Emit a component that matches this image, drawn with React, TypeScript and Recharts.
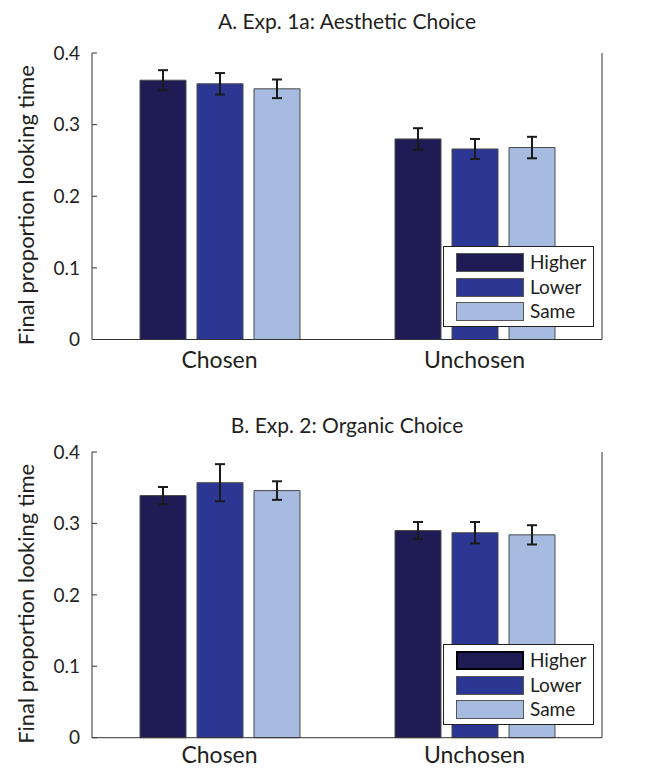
import React from 'react';
import { BarChart, Bar, XAxis, YAxis, ErrorBar, Legend } from 'recharts';

const categories = ['Chosen', 'Unchosen'];
const seriesNames = ['Higher', 'Lower', 'Same'];
const seriesColors = ['#1f1c55', '#2b3792', '#a7bbe0'];
const yTicks = [0, 0.1, 0.2, 0.3, 0.4];

const aHigher = [0.362, 0.28];
const aLower = [0.357, 0.266];
const aSame = [0.35, 0.268];
const aHigherErr = [0.014, 0.015];
const aLowerErr = [0.015, 0.014];
const aSameErr = [0.013, 0.015];

const bHigher = [0.339, 0.29];
const bLower = [0.357, 0.287];
const bSame = [0.346, 0.284];
const bHigherErr = [0.012, 0.012];
const bLowerErr = [0.026, 0.015];
const bSameErr = [0.013, 0.0135];

const FONT = 'Lato, "Open Sans", sans-serif';
const TEXT = '#231f20';

function buildData(h: number[], l: number[], s: number[], he: number[], le: number[], se: number[]) {
  return categories.map((c, i) => ({
    cat: c,
    Higher: h[i],
    Lower: l[i],
    Same: s[i],
    HigherErr: he[i],
    LowerErr: le[i],
    SameErr: se[i],
  }));
}

const dataA = buildData(aHigher, aLower, aSame, aHigherErr, aLowerErr, aSameErr);
const dataB = buildData(bHigher, bLower, bSame, bHigherErr, bLowerErr, bSameErr);

function makeLegend(thickFirst: boolean) {
  return () => (
    <div
      style={{
        position: 'relative',
        width: 151,
        height: 81,
        boxSizing: 'border-box',
        border: '1px solid #222',
        background: '#fff',
        fontFamily: FONT,
      }}
    >
      {seriesNames.map((n, i) => (
        <div key={n}>
          <div
            style={{
              position: 'absolute',
              left: 12,
              top: 6 + i * 24.7,
              width: 68,
              height: 19,
              boxSizing: 'border-box',
              background: seriesColors[i],
              border: thickFirst && i === 0 ? '2.5px solid #000' : '1px solid #555',
            }}
          />
          <div
            style={{
              position: 'absolute',
              left: 86,
              top: 2 + i * 24.7,
              fontSize: 19,
              lineHeight: '26px',
              color: TEXT,
            }}
          >
            {n}
          </div>
        </div>
      ))}
    </div>
  );
}

const yLabel = (cy: number) => (props: any) => {
  const x = 34;
  return (
    <text
      x={x}
      y={cy}
      transform={`rotate(-90, ${x}, ${cy})`}
      textAnchor="middle"
      fontFamily={FONT}
      fontSize={22}
      fill={TEXT}
    >
      Final proportion looking time
    </text>
  );
};

type PanelProps = {
  data: any[];
  height: number;
  marginTop: number;
  marginBottom: number;
  xHeight: number;
  xTickMargin: number;
  thickFirst: boolean;
};

function Panel({ data, height, marginTop, marginBottom, xHeight, xTickMargin, thickFirst }: PanelProps) {
  const plotCenter = marginTop + (height - marginTop - marginBottom - xHeight) / 2 + 9;
  return (
    <BarChart
      width={645}
      height={height}
      data={data}
      margin={{ top: marginTop, right: 0, bottom: marginBottom, left: 0 }}
      barSize={46}
      barGap={11}
    >
      <XAxis
        dataKey="cat"
        xAxisId="bottom"
        height={xHeight}
        tickLine={false}
        tickSize={0}
        tickMargin={xTickMargin}
        axisLine={{ stroke: '#333', strokeWidth: 1 }}
        tick={{ fontFamily: FONT, fontSize: 23, fill: TEXT }}
      />
      <XAxis
        dataKey="cat"
        xAxisId="top"
        orientation="top"
        height={0}
        tickSize={-5}
        tickFormatter={() => ''}
        tickLine={{ stroke: '#333' }}
        axisLine={{ stroke: '#333', strokeWidth: 1 }}
      />
      <YAxis
        yAxisId="left"
        width={92}
        domain={[0, 0.4]}
        ticks={yTicks}
        tickSize={-5}
        tickMargin={17}
        tickFormatter={(v: number) => (v === 0 ? '0' : v.toFixed(1))}
        tickLine={{ stroke: '#333' }}
        axisLine={{ stroke: '#333', strokeWidth: 1 }}
        tick={{ fontFamily: FONT, fontSize: 19, fill: TEXT }}
        label={{ content: yLabel(plotCenter) }}
      />
      <YAxis
        yAxisId="right"
        orientation="right"
        width={43}
        domain={[0, 0.4]}
        ticks={yTicks}
        tickSize={-5}
        tickFormatter={() => ''}
        tickLine={{ stroke: '#333' }}
        axisLine={{ stroke: '#333', strokeWidth: 1 }}
      />
      {seriesNames.map((n, i) => (
        <Bar
          key={n}
          dataKey={n}
          xAxisId="bottom"
          yAxisId="left"
          fill={seriesColors[i]}
          stroke="#4a4a4a"
          strokeWidth={1}
          isAnimationActive={false}
        >
          <ErrorBar dataKey={`${n}Err`} width={5} stroke="#1a1a1a" strokeWidth={2} />
        </Bar>
      ))}
      <Legend
        layout="vertical"
        align="center"
        verticalAlign="middle"
        content={makeLegend(thickFirst)}
        wrapperStyle={{ position: 'absolute', left: 443, top: 246, width: 151, height: 81 }}
      />
    </BarChart>
  );
}

export default function App() {
  return (
    <div style={{ position: 'absolute', left: 0, top: 0, width: 645, height: 768, background: '#fff', overflow: 'hidden' }}>
      <div
        style={{
          position: 'absolute',
          left: 92,
          width: 510,
          top: 8,
          textAlign: 'center',
          fontFamily: FONT,
          fontSize: 21,
          color: TEXT,
        }}
      >
        A. Exp. 1a: Aesthetic Choice
      </div>
      <div
        style={{
          position: 'absolute',
          left: 92,
          width: 510,
          top: 412,
          textAlign: 'center',
          fontFamily: FONT,
          fontSize: 21,
          color: TEXT,
        }}
      >
        B. Exp. 2: Organic Choice
      </div>
      <div style={{ position: 'absolute', left: 0, top: 0 }}>
        <Panel data={dataA} height={398} marginTop={53} marginBottom={28.5} xHeight={30} xTickMargin={12} thickFirst={false} />
      </div>
      <div style={{ position: 'absolute', left: 0, top: 398 }}>
        <Panel data={dataB} height={370} marginTop={54} marginBottom={0.3} xHeight={30} xTickMargin={9} thickFirst={true} />
      </div>
    </div>
  );
}
